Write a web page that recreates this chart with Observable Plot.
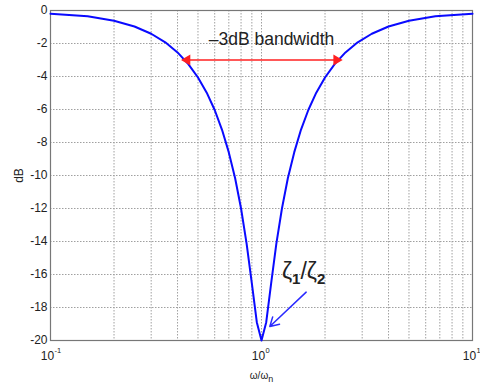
<!DOCTYPE html>
<html>
<head>
<meta charset="utf-8">
<script src="https://cdn.jsdelivr.net/npm/d3@7"></script>
<script src="https://cdn.jsdelivr.net/npm/@observablehq/plot@0.6"></script>
<style>
  html, body { margin: 0; padding: 0; background: white; }
</style>
</head>
<body>
<div id="chart"></div>
<script>
// frequency ratio ω/ωn
const ratio = [0.1, 0.15, 0.2, 0.25, 0.3, 0.35, 0.4, 0.45, 0.5, 0.55, 0.6, 0.65, 0.7, 0.75, 0.8, 0.85, 0.9, 0.95, 1,
  1.053, 1.111, 1.176, 1.25, 1.333, 1.429, 1.538, 1.667, 1.818, 2, 2.222, 2.5, 2.857, 3.333, 4, 5, 6.667, 10];
// magnitude in dB
const magDb = [-0.2, -0.35, -0.62, -0.97, -1.41, -1.93, -2.54, -3.25, -4.06, -4.98, -6.03, -7.23, -8.6, -10.17, -12.0, -14.13, -16.54, -18.89, -20,
  -18.89, -16.54, -14.13, -12.0, -10.17, -8.6, -7.23, -6.03, -4.98, -4.06, -3.25, -2.54, -1.93, -1.41, -0.97, -0.62, -0.35, -0.2];

const xTicks = [0.1, 1, 10];
const xTickExp = ["-1", "0", "1"];
const xGrid = [0.2, 0.3, 0.4, 0.5, 0.6, 0.7, 0.8, 0.9, 1, 2, 3, 4, 5, 6, 7, 8, 9];
const yTicks = [0, -2, -4, -6, -8, -10, -12, -14, -16, -18, -20];

// -3 dB bandwidth annotation
const bwLevel = -3;
const bwLow = 0.4256;
const bwHigh = 2.368;
const bwLabel = "\u20133dB bandwidth";
const bwLabelPos = {x: 1.115, y: -1.78};

// ζ1/ζ2 annotation
const zetaLabel = "\u03b61/\u03b62";
const zetaLabelPos = {x: 1.25, y: -15.85};
const zetaArrow = {x1: 1.628, y1: -17.07, x2: 1.095, y2: -19.15};

const curve = ratio.map((r, i) => ({r, db: magDb[i]}));

const chart = Plot.plot({
  width: 480,
  height: 385,
  marginLeft: 50,
  marginRight: 8,
  marginTop: 10,
  marginBottom: 45,
  style: {fontFamily: "'Liberation Sans', Arial, sans-serif", fontSize: "12px", background: "white", color: "#222"},
  x: {type: "log", domain: [0.1, 10], axis: null},
  y: {domain: [-20, 0]},
  marks: [
    Plot.ruleX(xGrid, {stroke: "#a0a0a0", strokeWidth: 1, strokeDasharray: "1.5,1.5"}),
    Plot.ruleY(yTicks.filter(d => d !== 0 && d !== -20), {stroke: "#a0a0a0", strokeWidth: 1, strokeDasharray: "1.5,1.5"}),
    Plot.frame({stroke: "#777", strokeWidth: 1.2}),
    Plot.axisY({ticks: yTicks, tickFormat: d => String(d), tickSize: 0, tickPadding: 3, fontSize: 12, label: "dB", labelAnchor: "center", labelArrow: "none", labelOffset: 36}),
    Plot.text(xTicks, {x: d => d, frameAnchor: "bottom", text: () => "10", dx: -3, dy: 16, fontSize: 12, lineAnchor: "middle"}),
    Plot.text(xTicks, {x: d => d, frameAnchor: "bottom", text: (d, i) => xTickExp[i], dx: 4, dy: 10, fontSize: 7.5, textAnchor: "start", lineAnchor: "middle"}),
    Plot.text(["ω/ω_n"], {x: 1, frameAnchor: "bottom", text: d => d, dy: 35, fontSize: 10, lineAnchor: "middle"}),
    Plot.line(curve, {x: "r", y: "db", stroke: "#0a0aff", strokeWidth: 2}),
    Plot.ruleY([bwLevel], {x1: bwLow, x2: bwHigh, stroke: "#ff2020", strokeWidth: 1.3}),
    Plot.dot([bwLow], {x: d => d, y: bwLevel, symbol: "triangle", rotate: -90, r: 4, fill: "#ff2020", stroke: "none", dx: 4}),
    Plot.dot([bwHigh], {x: d => d, y: bwLevel, symbol: "triangle", rotate: 90, r: 4, fill: "#ff2020", stroke: "none", dx: -4}),
    Plot.text([bwLabel], {x: bwLabelPos.x, y: bwLabelPos.y, text: d => d, fontSize: 17.5, fill: "#222"}),
    Plot.arrow([zetaArrow], {x1: "x1", y1: "y1", x2: "x2", y2: "y2", stroke: "#2a2aff", strokeWidth: 1.5, headLength: 10}),
    Plot.text([zetaLabel], {x: zetaLabelPos.x, y: zetaLabelPos.y, text: d => d, textAnchor: "start", fontSize: 23, fill: "#222"})
  ]
});

// subscripts
d3.select(chart).selectAll("text").each(function() {
  const t = this.textContent;
  if (t === "ω/ω_n") {
    this.innerHTML = 'ω/ω<tspan dy="3" font-size="9">n</tspan>';
  } else if (t === zetaLabel) {
    this.innerHTML = 'ζ<tspan dy="5" font-size="15" font-weight="bold">1</tspan><tspan dy="-5">/ζ</tspan><tspan dy="5" font-size="15" font-weight="bold">2</tspan>';
  }
});

document.getElementById("chart").appendChild(chart);
</script>
</body>
</html>
